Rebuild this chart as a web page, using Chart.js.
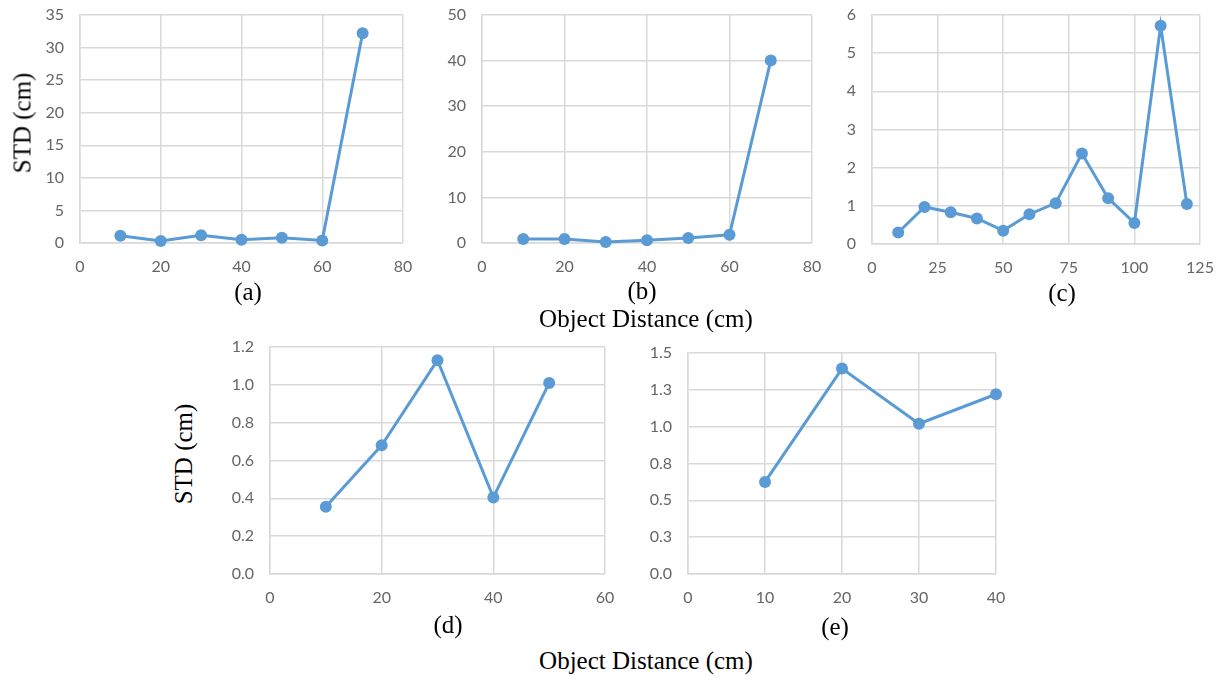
<!DOCTYPE html>
<html>
<head>
<meta charset="utf-8">
<script src="https://cdn.jsdelivr.net/npm/chart.js@4"></script>
<style>
  body { margin: 0; background: #fff; width: 1224px; height: 677px; position: relative; overflow: hidden; }
  canvas { position: absolute; }
  .lbl { position: absolute; font-family: "Liberation Serif", "Times New Roman", serif; font-size: 25px; color: #000; white-space: nowrap; transform: translate(-50%, -50%); line-height: 1; }
  .rot { transform: translate(-50%, -50%) rotate(-90deg); }
</style>
</head>
<body>
<canvas id="chart-a"></canvas>
<canvas id="chart-b"></canvas>
<canvas id="chart-c"></canvas>
<canvas id="chart-d"></canvas>
<canvas id="chart-e"></canvas>

<div class="lbl rot" style="left:22px; top:123px;">STD (cm)</div>
<div class="lbl" style="left:248px; top:291px;">(a)</div>
<div class="lbl" style="left:642px; top:290px;">(b)</div>
<div class="lbl" style="left:1062px; top:292px;">(c)</div>
<div class="lbl" style="left:646px; top:318px;">Object Distance (cm)</div>
<div class="lbl rot" style="left:183px; top:454px;">STD (cm)</div>
<div class="lbl" style="left:448px; top:624px;">(d)</div>
<div class="lbl" style="left:835px; top:626px;">(e)</div>
<div class="lbl" style="left:646px; top:660px;">Object Distance (cm)</div>

<script>
// Dados
const distA = [10, 20, 30, 40, 50, 60, 70];
const stdA = [1.1, 0.3, 1.2, 0.5, 0.8, 0.4, 32.2];

const distB = [10, 20, 30, 40, 50, 60, 70];
const stdB = [0.9, 0.9, 0.2, 0.6, 1.1, 1.8, 40.0];

const distC = [10, 20, 30, 40, 50, 60, 70, 80, 90, 100, 110, 120];
const stdC = [0.3, 0.97, 0.83, 0.67, 0.35, 0.78, 1.07, 2.37, 1.2, 0.55, 5.72, 1.05];

const distD = [10, 20, 30, 40, 50];
const stdD = [0.355, 0.68, 1.13, 0.405, 1.01];

const distE = [10, 20, 30, 40];
const stdE = [0.625, 1.394, 1.02, 1.22];

// Marcas dos eixos
const xTicksA = [0, 20, 40, 60, 80];
const yTicksA = [0, 5, 10, 15, 20, 25, 30, 35];
const xTicksB = [0, 20, 40, 60, 80];
const yTicksB = [0, 10, 20, 30, 40, 50];
const xTicksC = [0, 25, 50, 75, 100, 125];
const yTicksC = [0, 1, 2, 3, 4, 5, 6];
const xTicksD = [0, 20, 40, 60];
const yTicksD = [0, 0.2, 0.4, 0.6, 0.8, 1.0, 1.2];
const yLabelsD = ['0.0', '0.2', '0.4', '0.6', '0.8', '1.0', '1.2'];
const xTicksE = [0, 10, 20, 30, 40];
const yTicksE = [0, 0.25, 0.5, 0.75, 1.0, 1.25, 1.5];
const yLabelsE = ['0.0', '0.3', '0.5', '0.8', '1.0', '1.3', '1.5'];

const lineColor = '#5b9bd5';
const gridColor = '#d9d9d9';
const tickColor = '#666666';

// Margens fixas em volta da área do gráfico
const padTop = 30, padRight = 30, yAxisWidth = 60, xAxisHeight = 40;

// area = {left, top, right, bottom} da área de plotagem na página
function makeChart(id, area, xs, ys, xTicks, yTicks, yLabels) {
    const canvas = document.getElementById(id);
    canvas.width = yAxisWidth + (area.right - area.left) + padRight;
    canvas.height = padTop + (area.bottom - area.top) + xAxisHeight;
    canvas.style.left = (area.left - yAxisWidth) + 'px';
    canvas.style.top = (area.top - padTop) + 'px';

    const tickFont = { family: 'Lato', size: 16 };

    return new Chart(canvas.getContext('2d'), {
        type: 'scatter',
        data: {
            datasets: [{
                data: xs.map((x, i) => ({ x: x, y: ys[i] })),
                showLine: true,
                borderColor: lineColor,
                backgroundColor: lineColor,
                borderWidth: 3,
                pointRadius: 6,
                pointBorderWidth: 0,
                tension: 0,
                clip: false
            }]
        },
        options: {
            responsive: false,
            animation: false,
            layout: { padding: { top: padTop, right: padRight, left: 0, bottom: 0 } },
            plugins: {
                legend: { display: false },
                tooltip: { enabled: false }
            },
            scales: {
                x: {
                    type: 'linear',
                    min: xTicks[0],
                    max: xTicks[xTicks.length - 1],
                    afterBuildTicks: s => { s.ticks = xTicks.map(v => ({ value: v })); },
                    afterFit: s => { s.height = xAxisHeight; },
                    grid: { color: gridColor, lineWidth: 1.5, drawTicks: false },
                    border: { color: gridColor, width: 1.5 },
                    ticks: {
                        color: tickColor,
                        font: tickFont,
                        padding: 14,
                        maxRotation: 0,
                        callback: v => String(v)
                    }
                },
                y: {
                    min: yTicks[0],
                    max: yTicks[yTicks.length - 1],
                    afterBuildTicks: s => { s.ticks = yTicks.map(v => ({ value: v })); },
                    afterFit: s => { s.width = yAxisWidth; },
                    grid: { color: gridColor, lineWidth: 1.5, drawTicks: false },
                    border: { color: gridColor, width: 1.5 },
                    ticks: {
                        color: tickColor,
                        font: tickFont,
                        padding: 16,
                        callback: (v, i) => yLabels ? yLabels[i] : String(v)
                    }
                }
            }
        }
    });
}

makeChart('chart-a', { left: 80, top: 15, right: 403, bottom: 243 }, distA, stdA, xTicksA, yTicksA);
makeChart('chart-b', { left: 482, top: 15, right: 812, bottom: 243 }, distB, stdB, xTicksB, yTicksB);
makeChart('chart-c', { left: 872, top: 15, right: 1200, bottom: 244 }, distC, stdC, xTicksC, yTicksC);
makeChart('chart-d', { left: 270, top: 347, right: 605, bottom: 574 }, distD, stdD, xTicksD, yTicksD, yLabelsD);
makeChart('chart-e', { left: 688, top: 353, right: 996, bottom: 574 }, distE, stdE, xTicksE, yTicksE, yLabelsE);
</script>
</body>
</html>
